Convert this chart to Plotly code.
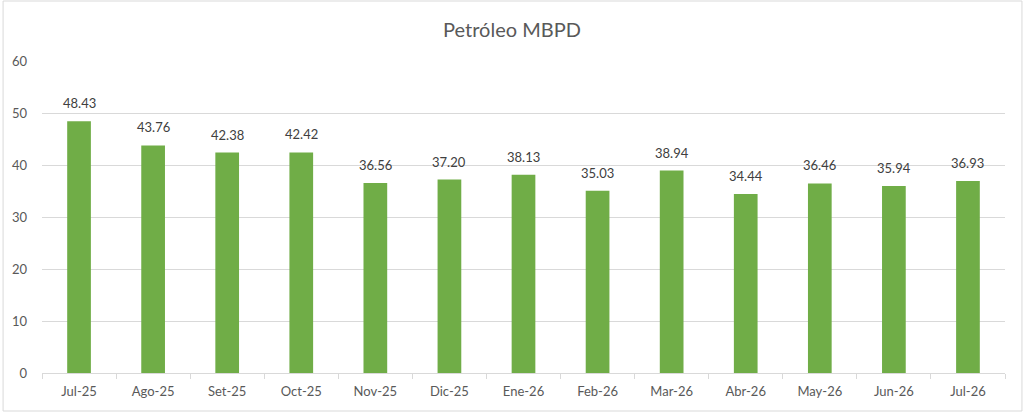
import plotly.graph_objects as go

months = ["Jul-25", "Ago-25", "Set-25", "Oct-25", "Nov-25", "Dic-25", "Ene-26",
          "Feb-26", "Mar-26", "Abr-26", "May-26", "Jun-26", "Jul-26"]
petroleo = [48.43, 43.76, 42.38, 42.42, 36.56, 37.20, 38.13,
            35.03, 38.94, 34.44, 36.46, 35.94, 36.93]
title_text = "Petróleo MBPD"

W, H = 1024, 413
ml, mr, mt, mb = 40, 19, 61, 40
pw, ph = W - ml - mr, H - mt - mb

fig = go.Figure(go.Bar(
    x=months, y=petroleo,
    marker=dict(color="#70AD47", line=dict(width=0)),
    hoverinfo="skip",
))

for m, v in zip(months, petroleo):
    fig.add_annotation(
        x=m, y=v, text=f"{v:.2f}", showarrow=False,
        yanchor="bottom", yshift=8,
        font=dict(family="Lato, sans-serif", size=13, color="#404040"),
    )

fig.update_layout(
    width=W, height=H,
    margin=dict(l=ml, r=mr, t=mt, b=mb),
    paper_bgcolor="white", plot_bgcolor="white",
    bargap=0.68,
    showlegend=False,
    title=dict(text=title_text, x=0.5, xanchor="center", y=1 - 30 / H, yanchor="middle",
               font=dict(family="Lato, sans-serif", size=20, color="#595959")),
    font=dict(family="Lato, sans-serif", color="#595959"),
    xaxis=dict(
        showline=True, linecolor="#d9d9d9", linewidth=1,
        ticks="outside", tickson="boundaries", ticklen=5, tickcolor="#d9d9d9",
        showgrid=False, tickfont=dict(size=13, color="#595959"),
        ticklabelstandoff=6,
    ),
    yaxis=dict(
        range=[0, 60], dtick=10, showgrid=True, gridcolor="#d9d9d9", gridwidth=1,
        zeroline=False, ticks="", tickfont=dict(size=13, color="#595959"),
        ticklabelstandoff=14,
    ),
    shapes=[dict(
        type="rect", xref="paper", yref="paper",
        x0=(1 - ml) / pw, x1=(W - 2 - ml) / pw,
        y0=-(mb - 2) / ph, y1=1 + (mt - 1) / ph,
        line=dict(color="#d9d9d9", width=1), fillcolor="rgba(0,0,0,0)", layer="below",
    )],
)

fig.write_html("out.html", config={"displayModeBar": False},
               post_script="document.body.style.margin='0';document.body.style.overflow='hidden';")
